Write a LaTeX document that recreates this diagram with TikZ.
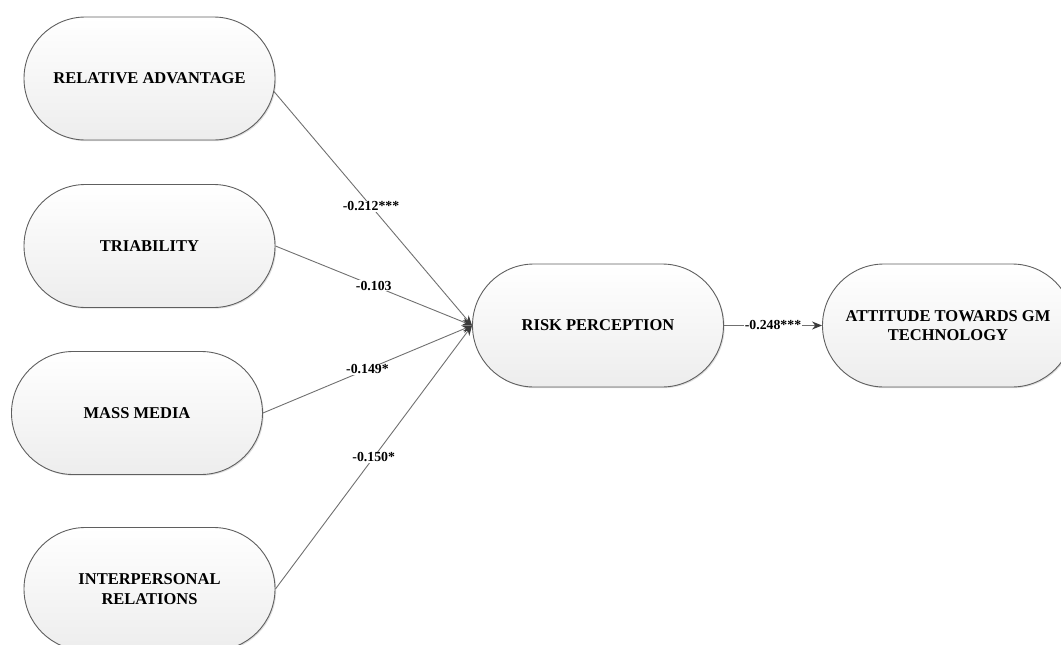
\documentclass[tikz,border=0pt]{standalone}
\usepackage{fontspec}
\setmainfont{Liberation Serif}
\usetikzlibrary{shapes.misc,arrows.meta,shadows}
\definecolor{edgegray}{HTML}{5F5F5F}
\definecolor{linegray}{HTML}{707070}
\definecolor{tipgray}{HTML}{3A3A3A}
\definecolor{fillbot}{HTML}{EDEDED}
\tikzset{
  construct/.style={rounded rectangle, draw=edgegray, line width=0.9pt,
    top color=white, bottom color=fillbot,
    minimum width=251pt, minimum height=123pt, inner sep=0pt,
    align=center, font=\bfseries\fontsize{16.5}{19.5}\selectfont,
    drop shadow={shadow xshift=1.2pt, shadow yshift=-1.2pt, opacity=0.25, fill=gray}},
  path/.style={draw=linegray, line width=0.9pt, -{Stealth[length=10pt,width=8pt,color=tipgray]}},
  coef/.style={fill=white, inner sep=1pt, font=\bfseries\fontsize{13.8}{15}\selectfont, text=black}
}
\begin{document}
\begin{tikzpicture}[x=1pt,y=-1pt]
\useasboundingbox (0,0) rectangle (1061,645);
\clip (0,0) rectangle (1061,645);
\node[construct] (ra)   at (149.5,78.5) {RELATIVE ADVANTAGE};
\node[construct] (tr)   at (149.5,246)  {TRIABILITY};
\node[construct] (mm)   at (137,413)    {MASS MEDIA};
\node[construct] (ip)   at (149.5,589)  {INTERPERSONAL\\RELATIONS};
\node[construct] (risk) at (598,325.5)  {RISK PERCEPTION};
\node[construct] (att)  at (948,325.5)  {ATTITUDE TOWARDS GM\\TECHNOLOGY};

\draw[path] (ra.-6.7) -- node[coef, pos=0.49] {-0.212***} (risk.west);
\draw[path] (tr.east) -- node[coef, pos=0.5] {-0.103} (risk.west);
\draw[path] (mm.east) -- node[coef, pos=0.5] {-0.149*} (risk.west);
\draw[path] (ip.east) -- node[coef, pos=0.5] {-0.150*} (risk.west);
\draw[path] (risk.east) -- node[coef, pos=0.5] {-0.248***} (att.west);
\end{tikzpicture}
\end{document}
